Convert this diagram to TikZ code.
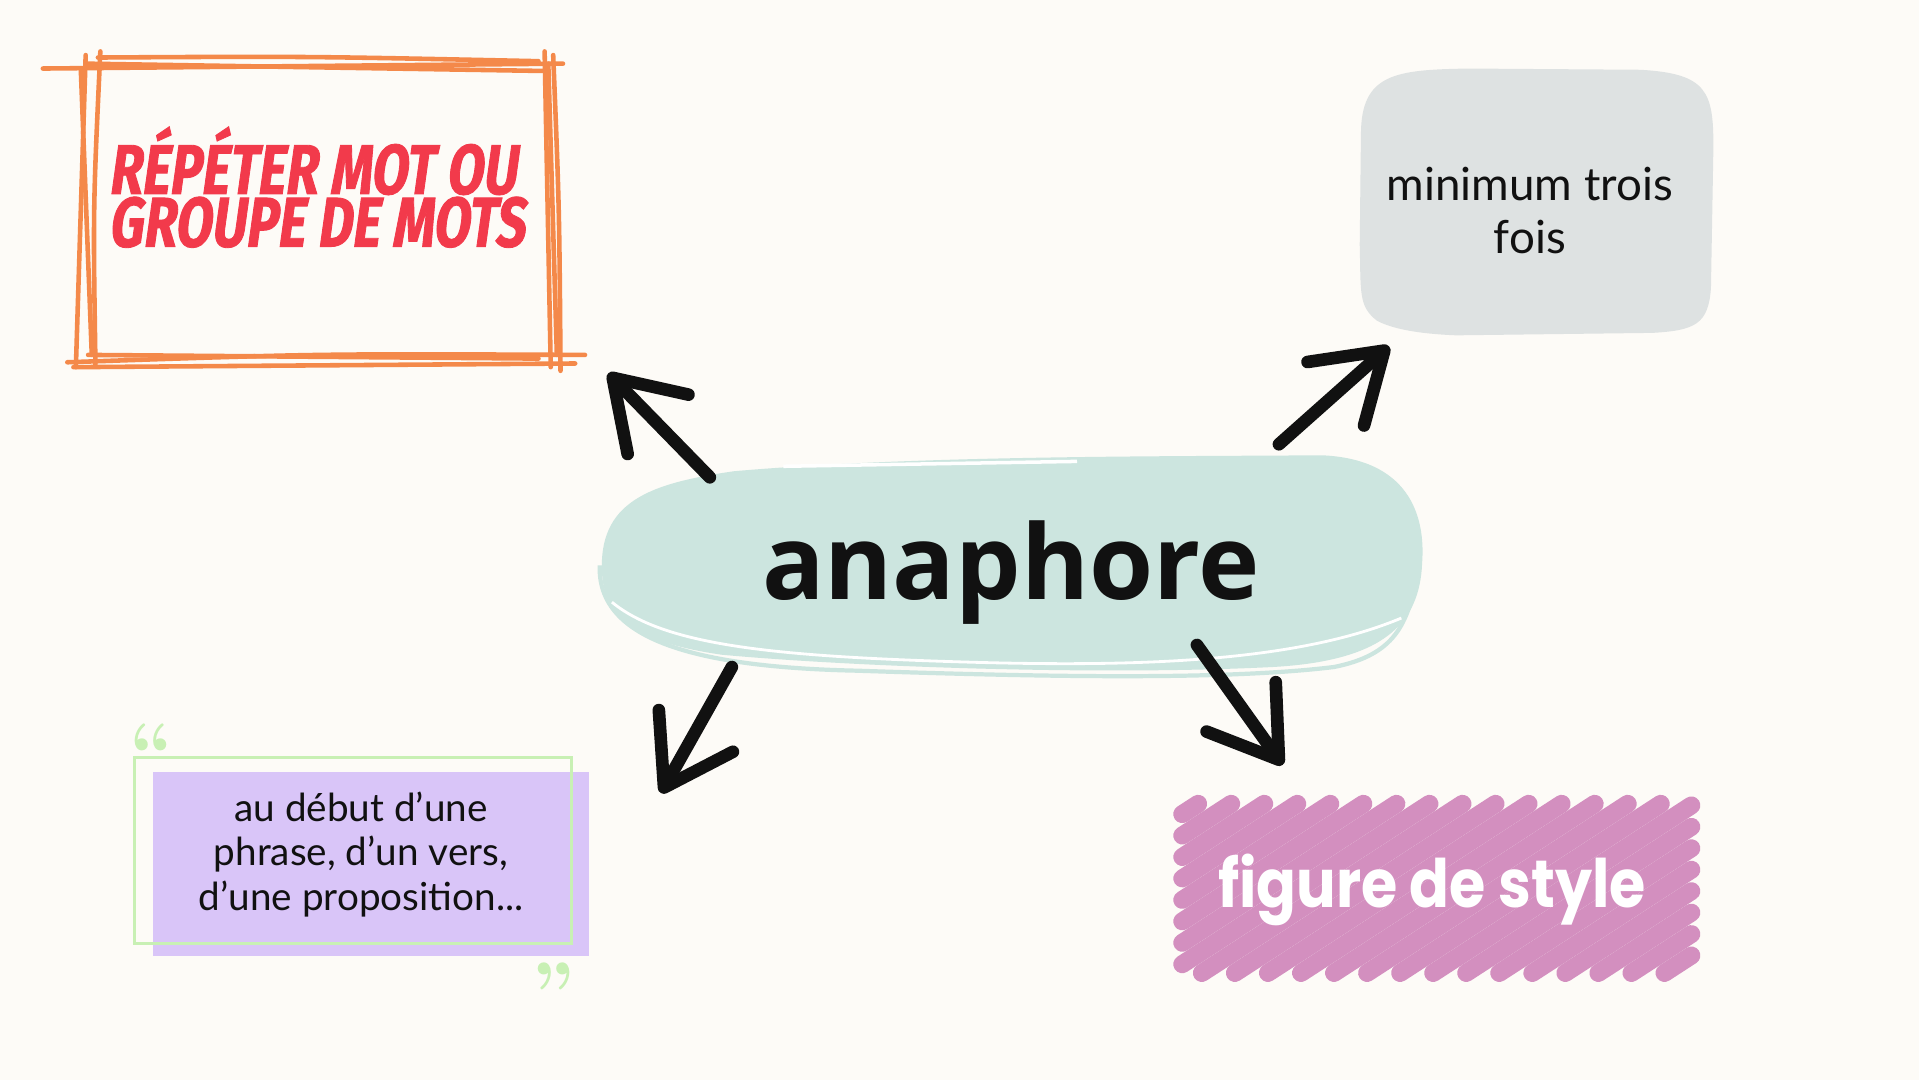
\documentclass[tikz,border=0pt]{standalone}
\usepackage{fontspec}
\setmainfont{Lato}
\newfontfamily\titlefont{Fira Sans}[FakeStretch=0.75,FakeSlant=0.14,FakeBold=1.2]
\newfontfamily\hubfont{Open Sans}
\newfontfamily\roundfont{Poppins}[FakeStretch=0.88]
\usetikzlibrary{arrows.meta}

\definecolor{paper}{HTML}{FDFBF7}
\definecolor{sketchorange}{HTML}{F4894A}
\definecolor{titlered}{HTML}{F23A4B}
\definecolor{cloudgrey}{HTML}{DEE2E2}
\definecolor{hubteal}{HTML}{CCE5DF}
\definecolor{notepurple}{HTML}{D9C5F8}
\definecolor{notegreen}{HTML}{C8F0B4}
\definecolor{scribblepink}{HTML}{D38FBF}
\definecolor{ink}{HTML}{111111}

\tikzstyle{hubtext} = [font=\hubfont\bfseries\fontsize{29.5}{34}\selectfont, text=ink]
\tikzstyle{titletext} = [font=\titlefont\bfseries\fontsize{20}{15}\selectfont, text=titlered, align=left, inner sep=0pt]
\tikzstyle{handtext} = [font=\fontsize{13}{15}\selectfont, text=ink, align=center]
\tikzstyle{notetext} = [font=\fontsize{11}{12.6}\selectfont, text=ink, align=center]
\tikzstyle{stylebadge} = [font=\roundfont\bfseries\fontsize{19}{23}\selectfont, text=white]
\tikzstyle{quotemark} = [font=\fontfamily{lmr}\bfseries\fontsize{22}{22}\selectfont, text=notegreen, inner sep=0pt]
\tikzstyle{sketch} = [sketchorange, line width=1.3pt, line cap=round]
\tikzstyle{scribble} = [scribblepink, line width=5.1pt, line cap=round]
\tikzstyle{pointer} = [ink, line width=3.6pt, line cap=round, -{Straight Barb[length=6.5mm,width=8.5mm,round]}]

\begin{document}
\begin{tikzpicture}[x=0.0122385cm, y=-0.0122385cm]
        % paper
        \fill[paper] (0,0) rectangle (1568,882.5);
        \useasboundingbox (0,0) rectangle (1568,882.5);

        % hand drawn orange frame
        \draw[sketch] (35,56) -- (460,52);
        \draw[sketch] (80,47) .. controls (250,46) .. (440,50);
        \draw[sketch] (70,52) -- (445,58);
        \draw[sketch] (55,296) .. controls (260,289) .. (478,290);
        \draw[sketch] (60,300) -- (470,297);
        \draw[sketch] (72,290) -- (440,293);
        \draw[sketch] (70,45) -- (62,300);
        \draw[sketch] (82,42) .. controls (76,170) .. (78,298);
        \draw[sketch] (66,56) -- (75,290);
        \draw[sketch] (445,42) -- (450,300);
        \draw[sketch] (452,45) .. controls (457,170) .. (458,303);
        \draw[sketch] (448,52) -- (455,290);

        % grey cloud
        \fill[cloudgrey] (1112,110) .. controls (1112,60) and (1140,57) .. (1200,56) -- (1340,57)
            .. controls (1395,60) and (1400,75) .. (1400,120) -- (1398,235)
            .. controls (1396,265) and (1385,270) .. (1350,272) -- (1190,274)
            .. controls (1165,273) and (1140,270) .. (1125,262)
            .. controls (1110,250) and (1112,240) .. (1111,200) -- cycle;

        % teal blob with its loose outline
        \fill[hubteal] (492,470) .. controls (488,410) and (530,395) .. (600,385)
            .. controls (750,372) and (950,373) .. (1080,372)
            .. controls (1150,375) and (1165,420) .. (1162,460)
            .. controls (1160,510) and (1130,540) .. (1040,545)
            .. controls (900,552) and (700,545) .. (590,535)
            .. controls (520,525) and (495,505) .. (492,470) -- cycle;
        \draw[hubteal, line width=1.2pt] (490,462) .. controls (488,520) and (560,545) .. (700,548)
            .. controls (850,553) and (1000,556) .. (1090,545) .. controls (1140,535) and (1150,510) .. (1158,470);
        \draw[white, line width=0.8pt] (500,492) .. controls (540,525) and (620,535) .. (760,540)
            .. controls (900,545) and (1050,545) .. (1145,505);
        \draw[white, line width=1pt] (640,381) -- (880,377);

        % purple note
        \fill[notepurple] (125,631) rectangle (481,781);
        \draw[notegreen, line width=1pt] (110,619) rectangle (467,771);

        % pink scribble
        \foreach \xo in {766,793,...,1375} {
            \pgfmathsetmacro\xa{max(\xo,966)}
            \pgfmathsetmacro\ya{795-0.649*(\xa-\xo)}
            \pgfmathsetmacro\xb{min(\xo+213,1382)}
            \pgfmathsetmacro\yb{795-0.649*(\xb-\xo)}
            \draw[scribble] (\xa,\ya) -- (\xb,\yb);
        }

        % texts
        \node (n1) [hubtext] at (826,468) {anaphore};
        \node (n2) [titletext, anchor=west] at (88,153) {RÉPÉTER MOT OU\\GROUPE DE MOTS};
        \node (n3) [handtext] at (1250,172) {minimum trois\\fois};
        \node (n4) [notetext] at (295,698) {au début d’une\\phrase, d’un vers,\\d’une proposition...};
        \node (n5) [stylebadge] at (1170,727) {figure de style};
        \node (q1) [quotemark] at (124,613) {“};
        \node (q2) [quotemark] at (452,809) {”};

        % arrows
        \coordinate (a1) at (580,390);
        \coordinate (b1) at (497,305);
        \coordinate (a2) at (1045,363);
        \coordinate (b2) at (1135,283);
        \coordinate (a3) at (598,545);
        \coordinate (b3) at (540,648);
        \coordinate (a4) at (978,527);
        \coordinate (b4) at (1048,625);
        \draw[pointer] (a1) -- (b1);
        \draw[pointer] (a2) -- (b2);
        \draw[pointer] (a3) -- (b3);
        \draw[pointer] (a4) -- (b4);
\end{tikzpicture}
\end{document}
